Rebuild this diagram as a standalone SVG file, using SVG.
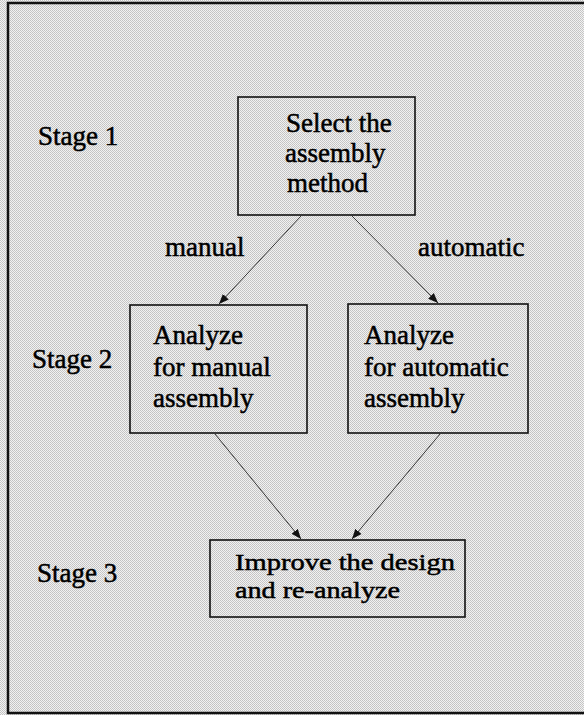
<svg xmlns="http://www.w3.org/2000/svg" width="584" height="715" viewBox="0 0 584 715">
  <defs>
    <!-- fine halftone screen used for the page tint -->
    <pattern id="screen" width="2" height="2" patternUnits="userSpaceOnUse">
      <rect width="2" height="2" fill="#f2f2f2"/>
      <rect width="1" height="1" fill="#c2c2c2"/>
      <rect x="1" y="1" width="1" height="1" fill="#c8c8c8"/>
    </pattern>
    <marker id="head" viewBox="0 0 10 10" refX="10" refY="5" markerWidth="10" markerHeight="10" markerUnits="userSpaceOnUse" orient="auto">
      <path d="M0,1 L10,5 L0,9 Z" fill="#111"/>
    </marker>
  </defs>
  <style>
    .box { fill: none; stroke: #111; stroke-width: 1.6; }
    .t { font-family: "Liberation Serif", "DejaVu Serif", "Times New Roman", serif; font-size: 27px; fill: #000; stroke: #000; stroke-width: 0.5; }
    .s { font-size: 24px; }
    .link { stroke: #333; stroke-width: 1; fill: none; marker-end: url(#head); }
  </style>

  <!-- page background and frame -->
  <rect x="0" y="0" width="584" height="715" fill="url(#screen)"/>
  <rect x="8" y="3" width="600" height="710" fill="none" stroke="#111" stroke-width="2.5"/>

  <!-- stage labels -->
  <g id="stage-labels" font-family="Liberation Serif, serif">
    <text class="t" x="38" y="145">Stage 1</text>
    <text class="t" x="32" y="368">Stage 2</text>
    <text class="t" x="37" y="582">Stage 3</text>
  </g>

  <!-- connectors -->
  <g id="connectors" font-family="Liberation Serif, serif">
    <line class="link" x1="301" y1="216" x2="219" y2="304"/>
    <line class="link" x1="352" y1="216" x2="438" y2="303"/>
    <line class="link" x1="215" y1="434" x2="301" y2="539"/>
    <line class="link" x1="440" y1="434" x2="352" y2="539"/>
    <text class="t" x="165" y="256">manual</text>
    <text class="t" x="418" y="256">automatic</text>
  </g>

  <g id="select-method" font-family="Liberation Serif, serif">
    <rect class="box" x="238" y="97" width="177" height="118"/>
    <text class="t" x="286" y="132">Select the</text>
    <text class="t" x="285" y="162">assembly</text>
    <text class="t" x="287" y="192">method</text>
  </g>

  <g id="analyze-manual" font-family="Liberation Serif, serif">
    <rect class="box" x="130" y="305" width="177" height="128"/>
    <text class="t" x="153" y="344">Analyze</text>
    <text class="t" x="153" y="376">for manual</text>
    <text class="t" x="153" y="407">assembly</text>
  </g>

  <g id="analyze-automatic" font-family="Liberation Serif, serif">
    <rect class="box" x="348" y="304" width="180" height="129"/>
    <text class="t" x="364" y="344">Analyze</text>
    <text class="t" x="364" y="376">for automatic</text>
    <text class="t" x="364" y="407">assembly</text>
  </g>

  <g id="improve-design" font-family="Liberation Serif, serif">
    <rect class="box" x="210" y="540" width="255" height="77"/>
    <text class="t s" x="235" y="570" textLength="220" lengthAdjust="spacingAndGlyphs">Improve the design</text>
    <text class="t s" x="235" y="598" textLength="165" lengthAdjust="spacingAndGlyphs">and re-analyze</text>
  </g>
</svg>
